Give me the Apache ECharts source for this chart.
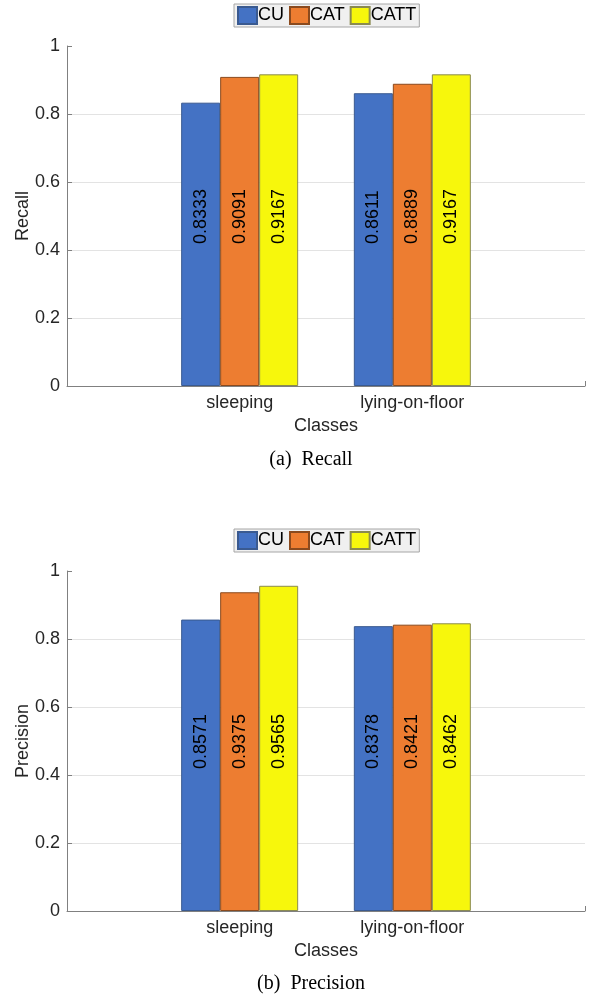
<!DOCTYPE html>
<html>
<head>
<meta charset="utf-8">
<script src="https://cdn.jsdelivr.net/npm/echarts@6/dist/echarts.min.js"></script>
<style>
html,body{margin:0;padding:0;background:#fff;}
#chart{width:595px;height:1001px;}
</style>
</head>
<body>
<div id="chart"></div>
<script>
const categories = ['sleeping', 'lying-on-floor'];
const seriesNames = ['CU', 'CAT', 'CATT'];
const recallCU = [0.8333, 0.8611];
const recallCAT = [0.9091, 0.8889];
const recallCATT = [0.9167, 0.9167];
const precisionCU = [0.8571, 0.8378];
const precisionCAT = [0.9375, 0.8421];
const precisionCATT = [0.9565, 0.8462];
const yTicks = [0, 0.2, 0.4, 0.6, 0.8, 1];

const colors = ['#4472c4', '#ed7d31', '#f7f70c'];
const borders = ['#3a5a90', '#8a4a1e', '#8a8a50'];
const font = 'Liberation Sans, Arial, Helvetica, sans-serif';
const serif = 'Liberation Serif, Times New Roman, serif';

function pts(vals) { return vals.map((v, i) => [i + 1, v]); }

function mkSeries(name, vals, idx, axisIdx) {
  return {
    name: name, type: 'bar', xAxisIndex: axisIdx, yAxisIndex: axisIdx,
    data: pts(vals), barWidth: 39, barGap: '0%',
    itemStyle: { color: colors[idx], borderColor: borders[idx], borderWidth: 1 },
    label: {
      show: true, position: 'insideBottom', distance: 142, rotate: 90,
      align: 'left', verticalAlign: 'middle',
      fontFamily: font, fontSize: 18, color: '#000',
      formatter: p => p.value[1].toFixed(4)
    },
    emphasis: { disabled: true },
    animation: false
  };
}

function mkX(gi) {
  return {
    type: 'value', gridIndex: gi, min: 0, max: 3, interval: 1,
    name: 'Classes', nameLocation: 'middle', nameGap: 31,
    nameTextStyle: { fontFamily: font, fontSize: 18, color: '#262626' },
    axisLine: { show: true, lineStyle: { color: '#808080', width: 1 } },
    axisTick: { show: true, inside: true, length: 5, lineStyle: { color: '#808080' } },
    axisLabel: { fontFamily: font, fontSize: 18, color: '#262626', margin: 8,
      formatter: v => categories[Math.round(v) - 1] || '' },
    splitLine: { show: false }
  };
}

function mkY(gi, name) {
  return {
    type: 'value', gridIndex: gi, min: yTicks[0], max: yTicks[yTicks.length - 1], interval: 0.2,
    name: name, nameLocation: 'middle', nameGap: 35, nameRotate: 90, nameMoveOverlap: false,
    nameTextStyle: { fontFamily: font, fontSize: 18, color: '#262626' },
    axisLine: { show: true, lineStyle: { color: '#808080', width: 1 } },
    axisTick: { show: true, inside: true, length: 5, lineStyle: { color: '#808080' } },
    axisLabel: { fontFamily: font, fontSize: 18, color: '#262626', margin: 7,
      formatter: v => String(Math.round(v * 10) / 10) },
    splitLine: { show: true, showMaxLine: false, lineStyle: { color: '#e3e3e3', width: 1 } }
  };
}

function mkLegend(top) {
  return {
    data: seriesNames, left: 234, top: top, orient: 'horizontal',
    itemWidth: 19, itemHeight: 17, itemGap: 5, padding: [2, 3, 2, 3],
    backgroundColor: '#f0f0f0', borderColor: '#a6a6a6', borderWidth: 1,
    textStyle: { fontFamily: font, fontSize: 18, color: '#000', padding: [0, 0, 0, -4] },
    icon: 'rect', selectedMode: false
  };
}

const chart = echarts.init(document.getElementById('chart'), null, { renderer: 'canvas' });
chart.setOption({
  backgroundColor: '#fff',
  animation: false,
  legend: [mkLegend(4), mkLegend(529)],
  grid: [
    { left: 67, right: 10, top: 46, height: 340, outerBoundsMode: 'none' },
    { left: 67, right: 10, top: 571, height: 340, outerBoundsMode: 'none' }
  ],
  xAxis: [mkX(0), mkX(1)],
  yAxis: [mkY(0, 'Recall'), mkY(1, 'Precision')],
  series: [
    mkSeries('CU', recallCU, 0, 0),
    mkSeries('CAT', recallCAT, 1, 0),
    mkSeries('CATT', recallCATT, 2, 0),
    mkSeries('CU', precisionCU, 0, 1),
    mkSeries('CAT', precisionCAT, 1, 1),
    mkSeries('CATT', precisionCATT, 2, 1)
  ],
  graphic: [
    { type: 'text', x: 311, y: 460, style: { text: '(a)  Recall', fontFamily: serif, fontSize: 20, fill: '#000', align: 'center', verticalAlign: 'middle' } },
    { type: 'text', x: 311, y: 984, style: { text: '(b)  Precision', fontFamily: serif, fontSize: 20, fill: '#000', align: 'center', verticalAlign: 'middle' } }
  ]
});
</script>
</body>
</html>
